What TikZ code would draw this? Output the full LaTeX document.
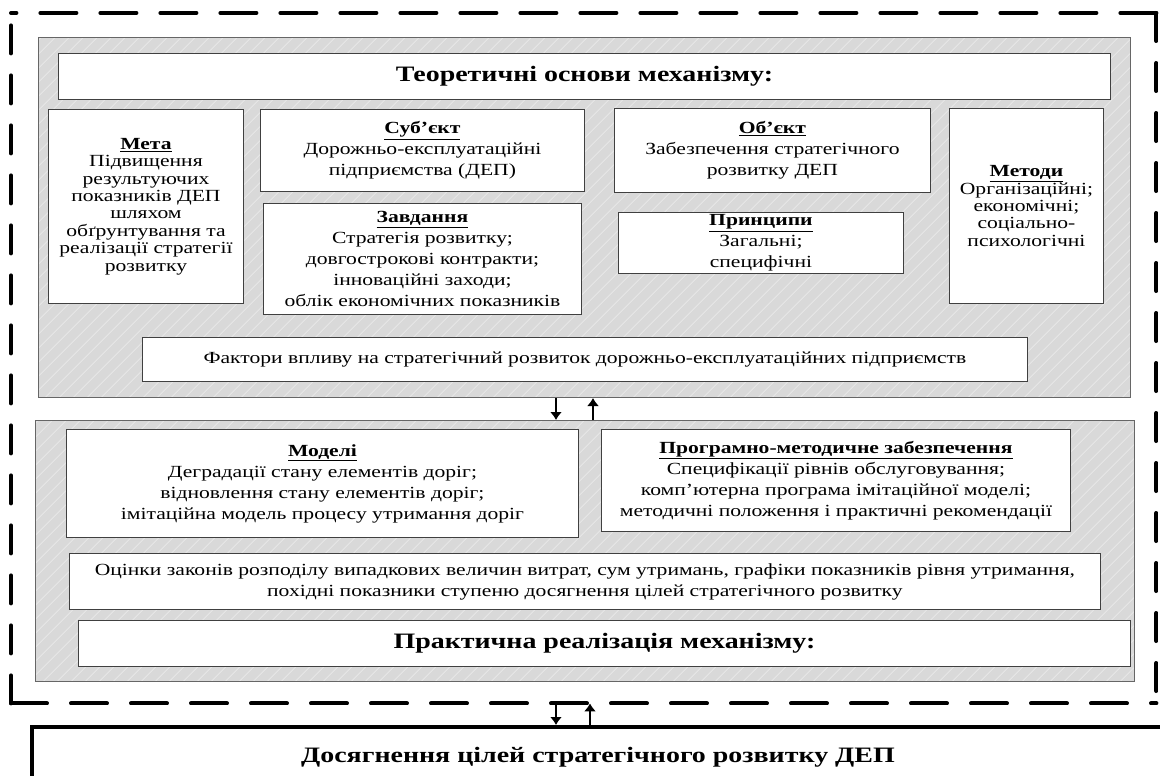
\documentclass[tikz,border=0pt]{standalone}
\usepackage{fontspec}
\setmainfont{Liberation Serif}[FakeStretch=1.27]
\usetikzlibrary{arrows.meta,patterns.meta}
\begin{document}
\begin{tikzpicture}[x=1pt,y=-1pt,
  wbox/.style={draw=black!75, line width=0.9pt, fill=white, align=center, inner sep=2pt, anchor=north west, font=\fontsize{17}{21}\selectfont},
  tight/.style={font=\fontsize{17}{17.4}\selectfont},
  bigbold/.style={font=\fontsize{22}{26}\selectfont\bfseries},
  gbox/.style={draw=black!60, line width=1pt, anchor=north west, inner sep=0pt, preaction={fill=black!15}, pattern={Lines[angle=45,distance=10.5pt,line width=1pt]}, pattern color=black!10},
  hd/.style={line width=4pt, line cap=round, dash pattern=on 36pt off 24pt},
  vd/.style={line width=4pt, line cap=round, dash pattern=on 28pt off 22pt},
  arr/.style={line width=1.5pt, -{Latex[length=8pt,width=12pt]}}]
\useasboundingbox (0,0) rectangle (1160,776);
\clip (0,0) rectangle (1160,776);
% outer dashed frame
\node[draw=none, anchor=north west, minimum width=1145pt, minimum height=690pt, inner sep=0pt] (frame) at (11,13) {};
\draw[hd] (frame.north east) -- (frame.north west);
\draw[vd] (frame.north east) -- (frame.south east);
\draw[hd] (frame.south west) -- (frame.south east);
\draw[vd] (frame.south west) -- (frame.north west);
% grey panels
\node[gbox, minimum width=1092pt, minimum height=360pt] (upper) at (38,37) {};
\node[gbox, minimum width=1099pt, minimum height=261pt] (lower) at (35,420) {};
% upper content
\node[wbox, bigbold, minimum width=1052pt, minimum height=46pt] (title) at (58,53) {Теоретичні основи механізму:};
\node[wbox, tight, minimum width=195pt, minimum height=194pt] (meta) at (48,109) {\underline{\textbf{Мета}}\\Підвищення\\результуючих\\показників ДЕП\\шляхом\\обґрунтування та\\реалізації стратегії\\розвитку};
\node[wbox, minimum width=324pt, minimum height=82pt] (subj) at (260,109) {\underline{\textbf{Суб’єкт}}\\Дорожньо-експлуатаційні\\підприємства (ДЕП)};
\node[wbox, minimum width=318pt, minimum height=111pt] (zavd) at (263,203) {\underline{\textbf{Завдання}}\\Стратегія розвитку;\\довгострокові контракти;\\інноваційні заходи;\\облік економічних показників};
\node[wbox, minimum width=316pt, minimum height=84pt] (obj) at (614,108) {\underline{\textbf{Об’єкт}}\\Забезпечення стратегічного\\розвитку ДЕП};
\node[wbox, minimum width=285pt, minimum height=61pt, inner sep=0pt] (princ) at (618,212) {\underline{\textbf{Принципи}}\\Загальні;\\специфічні};
\node[wbox, tight, minimum width=154pt, minimum height=195pt] (metody) at (949,108) {\underline{\textbf{Методи}}\\Організаційні;\\економічні;\\соціально-\\психологічні};
\node[wbox, minimum width=885pt, minimum height=44pt] (fakt) at (142,337) {Фактори впливу на стратегічний розвиток дорожньо-експлуатаційних підприємств};
% lower content
\node[wbox, minimum width=512pt, minimum height=108pt] (modeli) at (66,429) {\underline{\textbf{Моделі}}\\Деградації стану елементів доріг;\\відновлення стану елементів доріг;\\імітаційна модель процесу утримання доріг};
\node[wbox, minimum width=469pt, minimum height=102pt] (prog) at (601,429) {\underline{\textbf{Програмно-методичне забезпечення}}\\Специфікації рівнів обслуговування;\\комп’ютерна програма імітаційної моделі;\\методичні положення і практичні рекомендації};
\node[wbox, minimum width=1031pt, minimum height=56pt] (ots) at (69,553) {Оцінки законів розподілу випадкових величин витрат, сум утримань, графіки показників рівня утримання,\\похідні показники ступеню досягнення цілей стратегічного розвитку};
\node[wbox, bigbold, minimum width=1052pt, minimum height=46pt] (prakt) at (78,620) {Практична реалізація механізму:};
% goal box
\node[draw=black, line width=4pt, fill=white, bigbold, minimum width=1132pt, minimum height=60pt, inner sep=0pt] (goal) at (598,757) {Досягнення цілей стратегічного розвитку ДЕП};
% arrows
\coordinate (a1) at (556,0);
\coordinate (a2) at (593,0);
\coordinate (a3) at (590,0);
\draw[arr] (upper.south -| a1) -- (lower.north -| a1);
\draw[arr] (lower.north -| a2) -- (upper.south -| a2);
\draw[arr] (frame.south -| a1) -- (goal.north -| a1);
\draw[arr] (goal.north -| a3) -- (frame.south -| a3);
\end{tikzpicture}
\end{document}
